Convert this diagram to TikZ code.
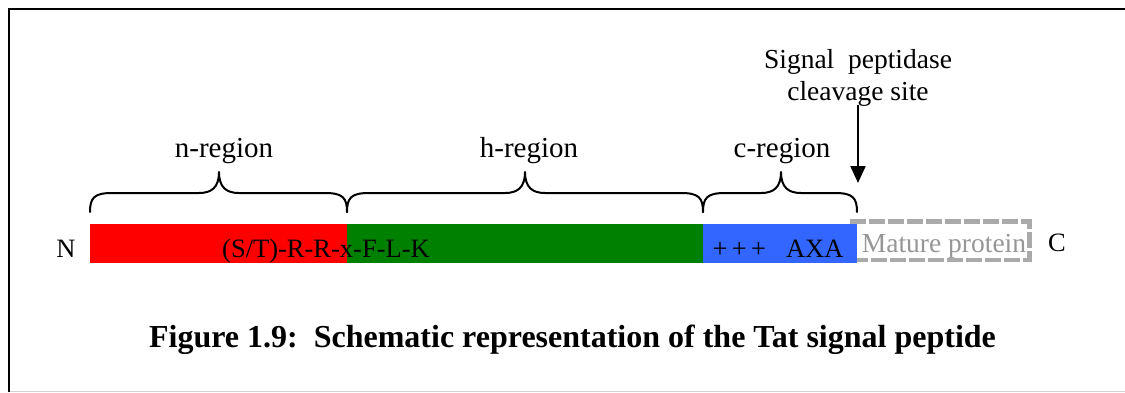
\documentclass[tikz,border=0pt]{standalone}
\usepackage{fontspec}
\setmainfont{Liberation Serif}
\usetikzlibrary{arrows.meta}
\definecolor{segred}{RGB}{255,0,0}
\definecolor{seggreen}{RGB}{0,128,0}
\definecolor{segblue}{RGB}{51,102,255}
\definecolor{maturegray}{RGB}{170,170,170}
\definecolor{maturetext}{RGB}{150,150,150}
\tikzset{
  lbl/.style={font=\fontsize{26.5}{30}\selectfont, inner sep=0pt, anchor=base},
  reglbl/.style={font=\fontsize{29}{32}\selectfont, inner sep=0pt, anchor=base},
  sitelbl/.style={font=\fontsize{27.5}{31}\selectfont, inner sep=0pt, anchor=base},
  bracepath/.style={line width=2pt, line cap=round, line join=round},
}
% curly brace from (#1,212) to (#2,212) with its tip at x=#3
\newcommand{\regionbrace}[3]{%
  \draw[bracepath] (#1,212) .. controls (#1,198) and (#1+4,193) .. (#1+22,193)
    -- (#3-20,193) .. controls (#3-8,193) and (#3,188) .. (#3,172)
    .. controls (#3,188) and (#3+8,193) .. (#3+20,193)
    -- (#2-22,193) .. controls (#2-4,193) and (#2,198) .. (#2,212);}
\begin{document}
\begin{tikzpicture}[x=1pt, y=-1pt]
\useasboundingbox (0,0) rectangle (1125,392);
% frame
\draw[gray!35, line width=1pt] (9,391) -- (1125,391);
\draw[line width=2pt] (9,392) -- (9,9) -- (1125,9);
% mature protein (dashed outline)
\node[draw=maturegray, line width=4.5pt, dash pattern=on 16pt off 3pt,
      minimum width=177.5pt, minimum height=38.5pt, inner sep=0pt, outer sep=0pt,
      anchor=north west] (mature) at (852,221.5) {};
\node[sitelbl, text=maturetext] (maturetxt) at (944,252) {Mature protein};
% segments of the signal peptide
\fill[segred] (90,224) rectangle (347,263);
\fill[seggreen] (347,224) rectangle (703,263);
\fill[segblue] (703,224) rectangle (857,263);
% texts in the bar
\node[lbl] (motif) at (326,257) {(S/T)-R-R-x-F-L-K};
\node[lbl] (cmotif) at (778,257) {+\,+\,+ \ \ AXA};
\node[lbl] (nterm) at (66,257) {N};
\node[lbl] (cterm) at (1057,251) {C};
% braces and region labels
\regionbrace{90}{347}{219}
\regionbrace{347}{703}{525}
\regionbrace{703}{857}{781}
\node[reglbl] (nreg) at (224,157) {n-region};
\node[reglbl] (hreg) at (529,157) {h-region};
\node[reglbl] (creg) at (782,157) {c-region};
% cleavage site
\node[sitelbl] (site1) at (858,68) {Signal\ \ peptidase};
\node[sitelbl] (site2) at (858,100) {cleavage site};
\coordinate (arrtop) at (858,105);
\coordinate (arrtip) at (858,183);
\draw[line width=2.2pt, -{Triangle[length=17pt, width=15pt]}] (arrtop) -- (arrtip);
% caption
\node[font=\fontsize{32}{36}\selectfont\bfseries, inner sep=0pt, anchor=base] (caption) at (572.5,347)
  {Figure 1.9:\ \ Schematic representation of the Tat signal peptide};
\end{tikzpicture}
\end{document}
